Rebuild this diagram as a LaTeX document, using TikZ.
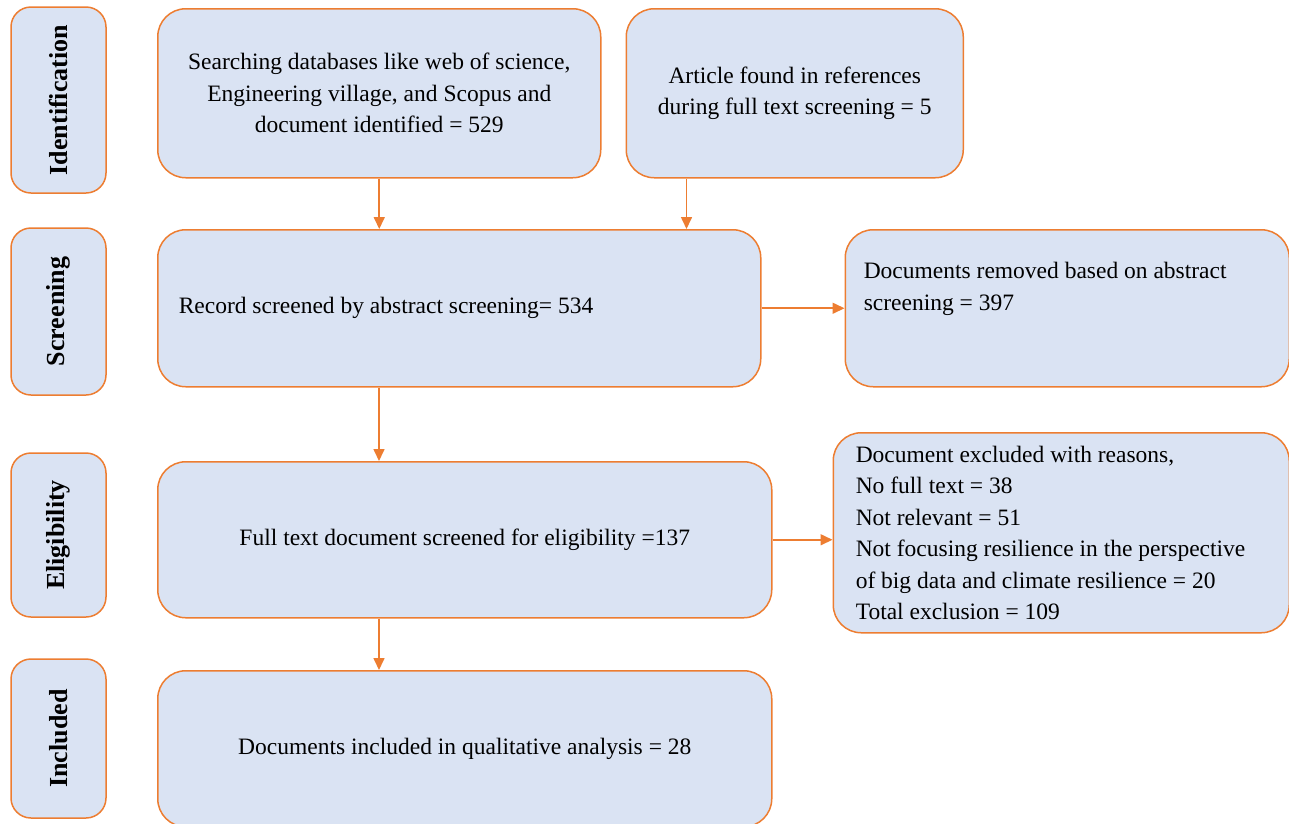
\documentclass[tikz,border=0pt]{standalone}
\usepackage{fontspec}
\setmainfont{Liberation Serif}
\usetikzlibrary{positioning,arrows.meta}
\definecolor{boxfill}{HTML}{DAE3F3}
\definecolor{boxline}{HTML}{ED7D31}

\begin{document}
\begin{tikzpicture}[x=1pt,y=-1pt,
  every node/.style={font=\fontsize{23.5}{31.5}\selectfont},
  stage/.style={draw=boxline,fill=boxfill,line width=1.5pt,rounded corners=20pt,rotate=90,
    minimum height=95pt,inner sep=0pt,font=\fontsize{26}{31}\selectfont\bfseries},
  box/.style={draw=boxline,fill=boxfill,line width=1.5pt,rounded corners=28pt,inner sep=0pt},
  flow/.style={draw=boxline,line width=1.6pt,-{Triangle[length=12pt,width=11pt]}}]
 \useasboundingbox (0,0) rectangle (1289,823);
 % stages on the left
 \node[stage,minimum width=186pt] (ident) at (58.5,100) {Identification};
 \node[stage,minimum width=167pt] (screen) at (58.5,311.5) {Screening};
 \node[stage,minimum width=164pt] (elig) at (58.5,535) {Eligibility};
 \node[stage,minimum width=159pt] (incl) at (58.5,738.5) {Included};
 % flow boxes
 \node[box,anchor=north west,minimum width=443pt,minimum height=169pt,align=center] (search) at (157,8)
   {Searching databases like web of science,\\Engineering village, and Scopus and\\document identified = 529};
 \node[box,right=24pt of search,minimum width=337pt,minimum height=169pt,align=center] (article)
   {Article found in references\\during full text screening = 5};
 \node[box,anchor=north west,minimum width=603pt,minimum height=157pt,text width=561pt,align=flush left] (record) at (157,229)
   {Record screened by abstract screening= 534};
 \node[box,right=83pt of record,minimum width=444pt,minimum height=157pt] (removed)
   {\parbox[c][92pt][t]{407pt}{Documents removed based on abstract\\screening = 397}};
 \node[box,anchor=north west,minimum width=614pt,minimum height=156pt] (fulltext) at (157,461)
   {Full text document screened for eligibility =137};
 \node[box,right=60pt of fulltext,yshift=7pt,minimum width=456pt,minimum height=200pt,text width=411pt,align=flush left] (excluded)
   {Document excluded with reasons,\\No full text = 38\\Not relevant = 51\\Not focusing resilience in the perspective\\of big data and climate resilience = 20\\Total exclusion = 109};
 \node[box,anchor=north west,minimum width=614pt,minimum height=156pt] (included) at (157,670)
   {Documents included in qualitative analysis = 28};
 % arrows
 \coordinate (artout) at ([xshift=61pt]article.south west);
 \coordinate (recout) at ([xshift=222pt]record.south west);
 \coordinate (fullout) at ([xshift=222pt]fulltext.south west);
 \draw[flow] (search.south) -- (search.south |- record.north);
 \draw[flow] (artout) -- (artout |- record.north);
 \draw[flow] (record) -- (removed);
 \draw[flow] (recout) -- (recout |- fulltext.north);
 \draw[flow] (fulltext.east) -- (fulltext.east -| excluded.west);
 \draw[flow] (fullout) -- (fullout |- included.north);
\end{tikzpicture}
\end{document}
